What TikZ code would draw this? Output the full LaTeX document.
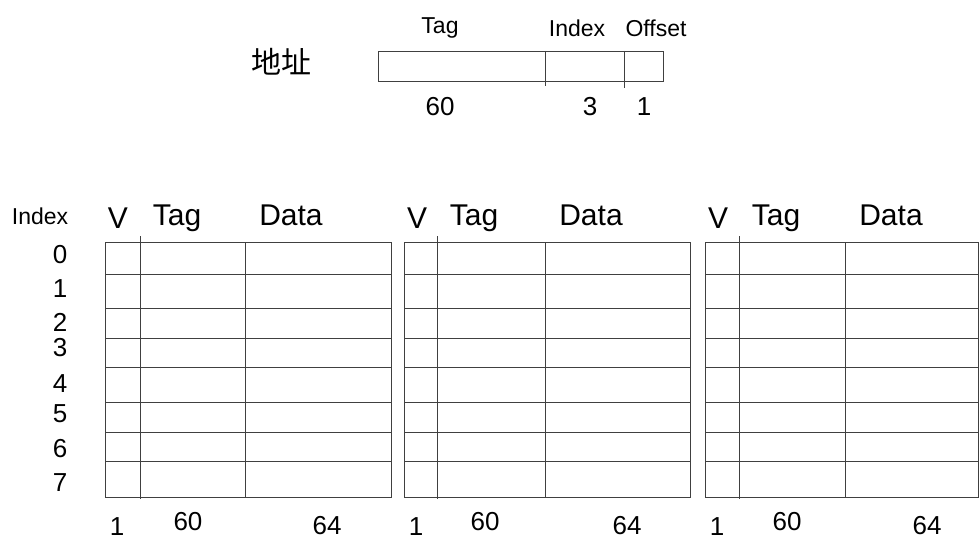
\documentclass[tikz,border=0pt]{standalone}
\usepackage{fontspec}
\setmainfont{Liberation Sans}
\newfontfamily\cjkfont{Noto Sans CJK SC}
\begin{document}
\begin{tikzpicture}[x=1pt,y=-1pt,
  gridline/.style={draw=black!75, line width=0.9pt},
  lbl/.style={font=\fontsize{26}{28}\selectfont, inner sep=0pt, anchor=center},
  hdr/.style={font=\fontsize{30}{32}\selectfont, inner sep=0pt, anchor=center},
  small/.style={font=\fontsize{23}{25}\selectfont, inner sep=0pt, anchor=center}]
\useasboundingbox (0,0) rectangle (979,543);
% address
\node[font=\cjkfont\fontsize{30}{32}\selectfont, inner sep=0pt] (addr) at (281,62) {地址};
\draw[gridline] (378,51) rectangle (663,81);
\draw[gridline] (545,51) -- (545,86);
\draw[gridline] (624,51) -- (624,88);
\node[small] (atag) at (440,28) {Tag};
\node[small] (aidx) at (577,28) {Index};
\node[small] (aoff) at (656,28) {Offset};
\node[lbl] (a60) at (440,107) {60};
\node[lbl] (a3) at (590,107) {3};
\node[lbl] (a1) at (644,107) {1};
% index column
\node[small] (idxh) at (40,216) {Index};
\foreach \i/\yy in {0/255,1/289,2/322,3/348,4/384,5/414,6/449,7/483}{
  \node[lbl] (idx\i) at (60,\yy) {\i};
}
% tables
\foreach \t/\xl/\xv/\xd/\xr in {1/105/140/245/391, 2/404/437/545/690, 3/705/739/845/978}{
  \draw[gridline] (\xl,242) rectangle (\xr,497);
  \foreach \yy in {274,308,338,367,402,432,461}{
    \draw[gridline] (\xl,\yy) -- (\xr,\yy);
  }
  \draw[gridline] (\xv,236) -- (\xv,499);
  \draw[gridline] (\xd,242) -- (\xd,497);
  \node[hdr] (v\t) at ({\xl+13},218) {V};
  \node[hdr] (tag\t) at ({\xv+37},218) {Tag};
  \node[hdr] (data\t) at ({\xd+46},215) {Data};
  \node[lbl] (bv\t) at ({\xl+12},527) {1};
  \node[lbl] (bt\t) at ({\xv+48},522) {60};
  \node[lbl] (bd\t) at ({\xd+82},526) {64};
}
\end{tikzpicture}
\end{document}
